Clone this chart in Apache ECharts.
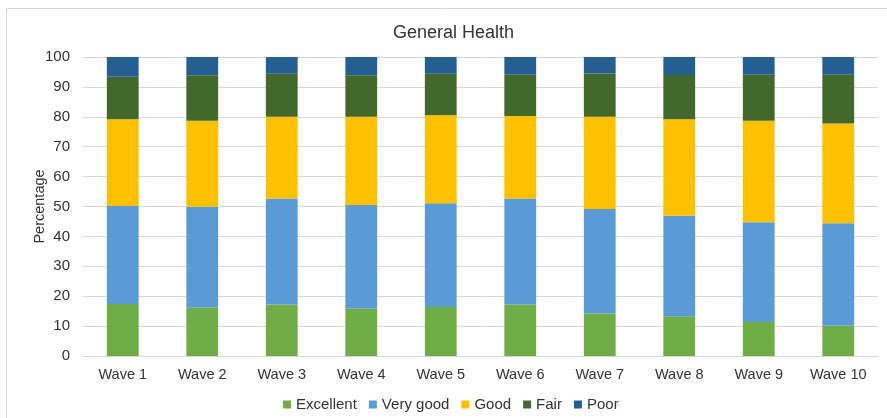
<!DOCTYPE html>
<html>
<head>
<meta charset="utf-8">
<title>General Health</title>
<script src="https://cdn.jsdelivr.net/npm/echarts@6/dist/echarts.min.js"></script>
<style>
  html, body { margin: 0; padding: 0; background: #ffffff; }
  #chart { width: 887px; height: 418px; }
</style>
</head>
<body>
<div id="chart"></div>
<script>
// Survey waves and self-rated general health shares (percent of respondents)
const waves = ['Wave 1', 'Wave 2', 'Wave 3', 'Wave 4', 'Wave 5', 'Wave 6', 'Wave 7', 'Wave 8', 'Wave 9', 'Wave 10'];
const excellent = [17.4, 16.2, 17.2, 15.9, 16.4, 17.2, 14.2, 13.3, 11.4, 10.1];
const veryGood  = [32.8, 33.7, 35.5, 34.6, 34.7, 35.5, 35.0, 33.6, 33.3, 34.3];
const good      = [29.0, 28.8, 27.3, 29.5, 29.4, 27.6, 30.8, 32.3, 34.0, 33.4];
const fair      = [14.2, 15.2, 14.4, 13.9, 13.9, 13.8, 14.5, 14.8, 15.4, 16.3];
const poor      = [6.6, 6.1, 5.6, 6.1, 5.6, 5.9, 5.5, 6.0, 5.9, 5.9];
const yTicks    = [0, 10, 20, 30, 40, 50, 60, 70, 80, 90, 100];

const FONT = '"Liberation Sans", Arial, sans-serif';
const TEXT = '#333333';

const seriesDefs = [
  { name: 'Excellent', data: excellent, color: '#70AD47' },
  { name: 'Very good', data: veryGood,  color: '#5B9BD5' },
  { name: 'Good',      data: good,      color: '#FFC000' },
  { name: 'Fair',      data: fair,      color: '#43682B' },
  { name: 'Poor',      data: poor,      color: '#255E91' }
];

const chart = echarts.init(document.getElementById('chart'), null, { renderer: 'canvas' });

chart.setOption({
  animation: false,
  backgroundColor: '#ffffff',
  graphic: [{
    type: 'rect',
    shape: { x: 6.5, y: 8.5, width: 1000, height: 1000 },
    style: { fill: 'none', stroke: '#d9d9d9', lineWidth: 1 },
    silent: true
  }],
  title: {
    text: 'General Health',
    left: 388,
    top: 19,
    textStyle: { fontFamily: FONT, fontSize: 18, fontWeight: 'normal', color: TEXT }
  },
  legend: {
    data: seriesDefs.map(s => s.name),
    left: 278,
    top: 392,
    icon: 'rect',
    itemWidth: 8,
    itemHeight: 8,
    itemGap: 12,
    textStyle: { fontFamily: FONT, fontSize: 15, color: TEXT }
  },
  grid: { left: 83, right: 9, top: 57, bottom: 62, containLabel: false },
  xAxis: {
    type: 'category',
    data: waves,
    axisLine: { lineStyle: { color: '#d9d9d9' } },
    axisTick: { show: false },
    axisLabel: { fontFamily: FONT, fontSize: 14.5, color: TEXT, margin: 11 }
  },
  yAxis: {
    type: 'value',
    min: yTicks[0],
    max: yTicks[yTicks.length - 1],
    interval: yTicks[1] - yTicks[0],
    name: 'Percentage',
    nameLocation: 'middle',
    nameGap: 36,
    nameMoveOverlap: false,
    nameTextStyle: { fontFamily: FONT, fontSize: 14.5, color: TEXT },
    axisLine: { show: false },
    axisTick: { show: false },
    axisLabel: { fontFamily: FONT, fontSize: 15, color: TEXT, margin: 13 },
    splitLine: { lineStyle: { color: '#d9d9d9' } }
  },
  series: seriesDefs.map(s => ({
    name: s.name,
    type: 'bar',
    stack: 'health',
    data: s.data,
    barWidth: '40%',
    itemStyle: { color: s.color },
    emphasis: { disabled: true }
  }))
});
</script>
</body>
</html>
